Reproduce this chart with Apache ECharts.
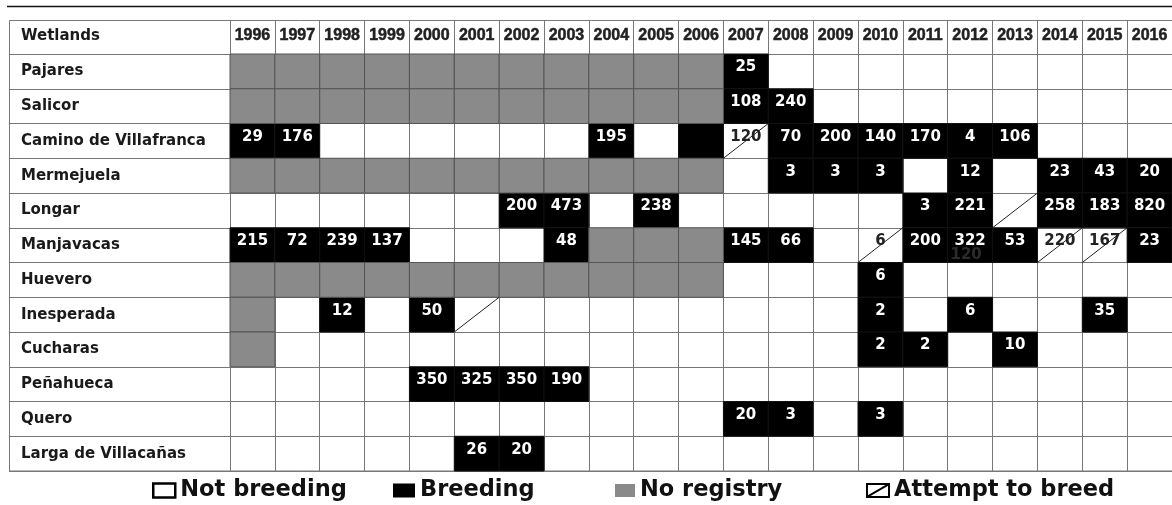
<!DOCTYPE html>
<html>
<head>
<meta charset="utf-8">
<script src="https://cdn.jsdelivr.net/npm/echarts@6/dist/echarts.min.js"></script>
<style>
  html, body { margin: 0; padding: 0; background: #fff; }
  #main { width: 1172px; height: 505px; }
</style>
</head>
<body>
<div id="main"></div>
<script>
var years = ['1996', '1997', '1998', '1999', '2000', '2001', '2002', '2003', '2004', '2005', '2006',
  '2007', '2008', '2009', '2010', '2011', '2012', '2013', '2014', '2015', '2016'];

var wetlands = ['Pajares', 'Salicor', 'Camino de Villafranca', 'Mermejuela', 'Longar', 'Manjavacas',
  'Huevero', 'Inesperada', 'Cucharas', 'Peñahueca', 'Quero', 'Larga de Villacañas'];

// [wetland, year, birds]  (null = breeding, no count given)
var breeding = [
  ['Pajares', '2007', 25],
  ['Salicor', '2007', 108], ['Salicor', '2008', 240],
  ['Camino de Villafranca', '1996', 29], ['Camino de Villafranca', '1997', 176],
  ['Camino de Villafranca', '2004', 195], ['Camino de Villafranca', '2006', null],
  ['Camino de Villafranca', '2008', 70], ['Camino de Villafranca', '2009', 200],
  ['Camino de Villafranca', '2010', 140], ['Camino de Villafranca', '2011', 170],
  ['Camino de Villafranca', '2012', 4], ['Camino de Villafranca', '2013', 106],
  ['Mermejuela', '2008', 3], ['Mermejuela', '2009', 3], ['Mermejuela', '2010', 3],
  ['Mermejuela', '2012', 12], ['Mermejuela', '2014', 23], ['Mermejuela', '2015', 43],
  ['Mermejuela', '2016', 20],
  ['Longar', '2002', 200], ['Longar', '2003', 473], ['Longar', '2005', 238],
  ['Longar', '2011', 3], ['Longar', '2012', 221], ['Longar', '2014', 258],
  ['Longar', '2015', 183], ['Longar', '2016', 820],
  ['Manjavacas', '1996', 215], ['Manjavacas', '1997', 72], ['Manjavacas', '1998', 239],
  ['Manjavacas', '1999', 137], ['Manjavacas', '2003', 48], ['Manjavacas', '2007', 145],
  ['Manjavacas', '2008', 66], ['Manjavacas', '2011', 200], ['Manjavacas', '2012', 322],
  ['Manjavacas', '2013', 53], ['Manjavacas', '2016', 23],
  ['Huevero', '2010', 6],
  ['Inesperada', '1998', 12], ['Inesperada', '2000', 50], ['Inesperada', '2010', 2],
  ['Inesperada', '2012', 6], ['Inesperada', '2015', 35],
  ['Cucharas', '2010', 2], ['Cucharas', '2011', 2], ['Cucharas', '2013', 10],
  ['Peñahueca', '2000', 350], ['Peñahueca', '2001', 325], ['Peñahueca', '2002', 350],
  ['Peñahueca', '2003', 190],
  ['Quero', '2007', 20], ['Quero', '2008', 3], ['Quero', '2010', 3],
  ['Larga de Villacañas', '2001', 26], ['Larga de Villacañas', '2002', 20]
];

// [wetland, year, birds]
var attempts = [
  ['Camino de Villafranca', '2007', 120], ['Longar', '2013', null], ['Manjavacas', '2010', 6],
  ['Manjavacas', '2014', 220], ['Manjavacas', '2015', 167], ['Inesperada', '2001', null]
];

// [wetland, first year, last year]
var noRegistry = [
  ['Pajares', '1996', '2006'], ['Salicor', '1996', '2006'], ['Mermejuela', '1996', '2006'],
  ['Manjavacas', '2004', '2006'], ['Huevero', '1996', '2006'], ['Inesperada', '1996', '1996'],
  ['Cucharas', '1996', '1996']
];

// second figure printed faintly in a cell
var notes = [['Manjavacas', '2012', 120]];

var FONT = '"Liberation Sans", Arial, sans-serif';
var WIDE = '"DejaVu Sans", sans-serif';

function toCells(list) {
  return list.map(function (d) {
    return { value: [years.indexOf(d[1]), wetlands.indexOf(d[0])], text: d[2] == null ? '' : String(d[2]) };
  });
}

var breedCells = toCells(breeding);
var attemptCells = toCells(attempts);
var noRegCells = [];
noRegistry.forEach(function (d) {
  for (var i = years.indexOf(d[1]); i <= years.indexOf(d[2]); i++) {
    noRegCells.push({ value: [i, wetlands.indexOf(d[0])], text: '' });
  }
});
var noteCells = toCells(notes);

var taken = {};
breedCells.concat(attemptCells, noRegCells).forEach(function (c) { taken[c.value.join(',')] = 1; });
var emptyCells = [];
wetlands.forEach(function (w, r) {
  years.forEach(function (y, c) {
    if (!taken[c + ',' + r]) emptyCells.push({ value: [c, r], text: '' });
  });
});

function box(api) {
  var c = api.coord([api.value(0), api.value(1)]);
  var s = api.size([1, 1]);
  return { x: c[0] - s[0] / 2, y: c[1] - s[1] / 2, w: s[0], h: s[1], cx: c[0], cy: c[1] };
}

function cellSeries(name, cells, draw) {
  return {
    name: name,
    type: 'custom',
    coordinateSystem: 'cartesian2d',
    encode: { x: 0, y: 1 },
    data: cells.map(function (c) { return c.value; }),
    silent: true,
    renderItem: function (params, api) {
      return draw(box(api), cells[params.dataIndex].text);
    }
  };
}

function label(b, text, color) {
  return {
    type: 'text',
    style: { text: text, x: b.cx, y: b.cy - 4, align: 'center', verticalAlign: 'middle', fill: color, font: 'bold 15px ' + WIDE }
  };
}

var chart = echarts.init(document.getElementById('main'));

var legendBase = {
  top: 479, padding: 0, itemWidth: 22, itemHeight: 14, selectedMode: false,
  textStyle: { fontFamily: WIDE, fontWeight: 'bold', fontSize: 22.5, color: '#111' }
};

chart.setOption({
  animation: false,
  grid: { left: 230, top: 54, width: 945, bottom: 34 },
  xAxis: {
    type: 'category', data: years, position: 'top',
    axisLine: { lineStyle: { color: '#777' } },
    axisTick: { show: true, interval: 0, length: 34, lineStyle: { color: '#777' } },
    axisLabel: { interval: 0, margin: 10, fontFamily: FONT, fontWeight: 'bold', fontSize: 16, color: '#222',
      textBorderColor: '#222', textBorderWidth: 0.5 },
    splitLine: { show: true, interval: 0, lineStyle: { color: '#777' } }
  },
  yAxis: {
    type: 'category', data: wetlands, inverse: true,
    axisLine: { lineStyle: { color: '#777' } },
    axisTick: { show: true, interval: 0, length: 221, lineStyle: { color: '#777' } },
    axisLabel: { interval: 0, align: 'left', margin: 209, fontFamily: WIDE, fontWeight: 'bold', fontSize: 15, color: '#1a1a1a' },
    splitLine: { show: true, interval: 0, lineStyle: { color: '#777' } }
  },
  legend: [
    { left: 152, data: [{ name: 'Not breeding', icon: 'rect', itemStyle: { color: '#fff', borderColor: '#000', borderWidth: 2.5 } }] },
    { left: 393, data: [{ name: 'Breeding', icon: 'rect', itemStyle: { color: '#000' } }] },
    { left: 615, itemWidth: 20, itemHeight: 13, data: [{ name: 'No registry', icon: 'rect', itemStyle: { color: '#8a8a8a' } }] },
    { left: 866, data: [{ name: 'Attempt to breed', icon: 'path://M0,0L24,0L24,14L0,14Z M0,14L24,0', itemStyle: { color: '#fff', borderColor: '#000', borderWidth: 2 } }] }
  ].map(function (l) { return Object.assign({}, legendBase, l); }),
  graphic: [
    { type: 'line', shape: { x1: 7, y1: 6.5, x2: 1172, y2: 6.5 }, style: { stroke: '#111', lineWidth: 1.5 } },
    { type: 'rect', shape: { x: 9.5, y: 20.5, width: 1170, height: 450.5 }, style: { fill: null, stroke: '#777', lineWidth: 1 } },
    { type: 'text', left: 21, top: 29, style: { text: 'Wetlands', font: 'bold 15px ' + WIDE, fill: '#1a1a1a' } }
  ],
  series: [
    cellSeries('Not breeding', emptyCells, function () { return { type: 'group', children: [] }; }),
    cellSeries('Breeding', breedCells, function (b, text) {
      var kids = [{ type: 'rect', shape: { x: b.x, y: b.y, width: b.w, height: b.h }, style: { fill: '#000', stroke: '#111', lineWidth: 1 } }];
      if (text) kids.push(label(b, text, '#fff'));
      return { type: 'group', children: kids };
    }),
    cellSeries('No registry', noRegCells, function (b) {
      return { type: 'rect', shape: { x: b.x, y: b.y, width: b.w, height: b.h }, style: { fill: '#8a8a8a', stroke: '#555', lineWidth: 1 } };
    }),
    cellSeries('Attempt to breed', attemptCells, function (b, text) {
      var kids = [{ type: 'line', shape: { x1: b.x, y1: b.y + b.h, x2: b.x + b.w, y2: b.y }, style: { stroke: '#222', lineWidth: 1 } }];
      if (text) kids.push(label(b, text, '#222'));
      return { type: 'group', children: kids };
    }),
    Object.assign(cellSeries('notes', noteCells, function (b, text) {
      return { type: 'text', style: { text: text, x: b.cx - 4, y: b.cy + 10, align: 'center', verticalAlign: 'middle', fill: '#2b2b2b', font: 'bold 15px ' + WIDE } };
    }), { z: 5 })
  ]
});
</script>
</body>
</html>
